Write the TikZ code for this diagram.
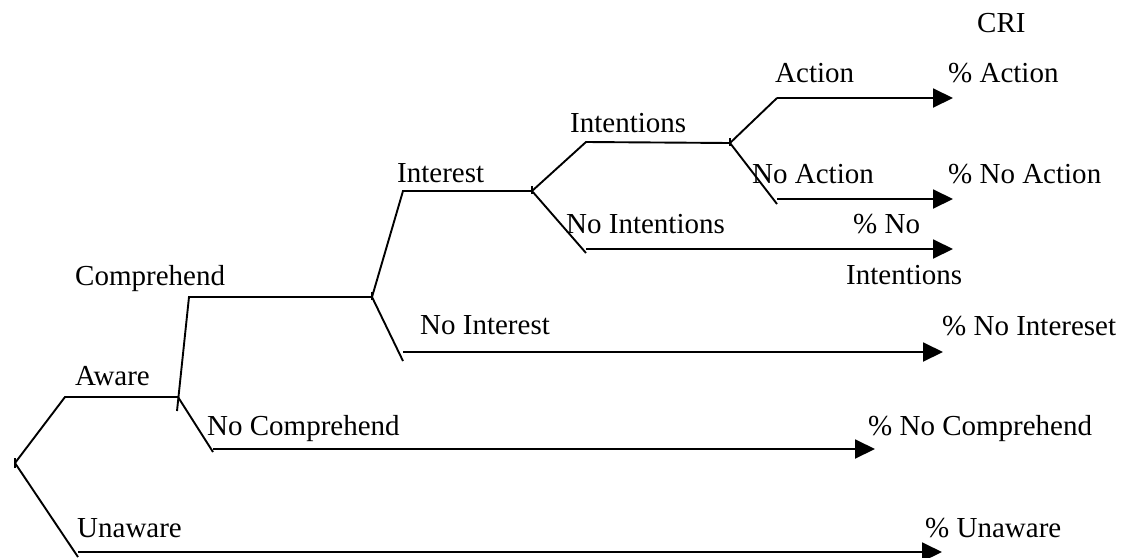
\documentclass[tikz,border=0pt]{standalone}
\usepackage{fontspec}
\setmainfont{Liberation Serif}
\usetikzlibrary{arrows.meta}
\begin{document}
\begin{tikzpicture}[x=1pt,y=-1pt,
  lbl/.style={anchor=base west,inner sep=0pt,font=\fontsize{29}{34}\selectfont},
  br/.style={line width=1.9pt},
  outarrow/.style={line width=1.9pt,-{Triangle[length=20pt,width=19pt]}},
  tick/.style={line width=1.5pt}]
\useasboundingbox (0,0) rectangle (1123,557);
% junction / corner coordinates
\coordinate (r) at (15,463);
\coordinate (aw1) at (65,397);
\coordinate (aw2) at (178,397);
\coordinate (awlow) at (177,411);
\coordinate (cm1) at (189,297);
\coordinate (cm2) at (372,297);
\coordinate (in1) at (403,191);
\coordinate (in2) at (532,191);
\coordinate (it1) at (586,142);
\coordinate (it2) at (730,143);
\coordinate (ac1) at (777,98);
\coordinate (ac2) at (953,98);
\coordinate (na0) at (777,204);
\coordinate (na1) at (777,199);
\coordinate (na2) at (953,199);
\coordinate (ni0) at (586,253);
\coordinate (ni1) at (586,249);
\coordinate (ni2) at (953,249);
\coordinate (nt0) at (403,361);
\coordinate (nt1) at (403,352);
\coordinate (nt2) at (943,352);
\coordinate (nc0) at (213,452);
\coordinate (nc1) at (213,449);
\coordinate (nc2) at (875,449);
\coordinate (un0) at (78,557);
\coordinate (un1) at (78,552);
\coordinate (un2) at (942,552);
% branches
\draw[br] (r) -- (aw1) -- (aw2);
\draw[br] (awlow) -- (cm1) -- (cm2);
\draw[br] (cm2) -- (in1) -- (in2);
\draw[br] (in2) -- (it1) -- (it2);
\draw[br] (it2) -- (ac1);
\draw[outarrow] (ac1) -- (ac2);
\draw[br] (it2) -- (na0);
\draw[outarrow] (na1) -- (na2);
\draw[br] (in2) -- (ni0);
\draw[outarrow] (ni1) -- (ni2);
\draw[br] (cm2) -- (nt0);
\draw[outarrow] (nt1) -- (nt2);
\draw[br] (aw2) -- (nc0);
\draw[outarrow] (nc1) -- (nc2);
\draw[br] (r) -- (un0);
\draw[outarrow] (un1) -- (un2);
% small ticks at junctions
\draw[tick] ([yshift=-5pt]r) -- ([yshift=5pt]r);
\draw[tick] ([yshift=-3pt]cm2) -- ([yshift=5pt]cm2);
\draw[tick] ([yshift=-3pt]in2) -- ([yshift=5pt]in2);
\draw[tick] ([yshift=-3pt]it2) -- ([yshift=5pt]it2);
% labels
\node[lbl] (cri) at (977,32) {CRI};
\node[lbl] (tAction) at (775,82) {Action};
\node[lbl] (pAction) at (948,82) {\% Action};
\node[lbl] (tIntentions) at (570,132) {Intentions};
\node[lbl] (tNoAction) at (752,183) {No Action};
\node[lbl] (pNoAction) at (948,183) {\% No Action};
\node[lbl] (tInterest) at (397,182) {Interest};
\node[lbl] (tNoIntentions) at (566,233) {No Intentions};
\node[lbl] (pNoInt1) at (853,233) {\% No};
\node[lbl] (pNoInt2) at (846,284) {Intentions};
\node[lbl] (tComprehend) at (75,285) {Comprehend};
\node[lbl] (tNoInterest) at (420,334) {No Interest};
\node[lbl] (pNoInterest) at (942,335) {\% No Intereset};
\node[lbl] (tAware) at (75,385) {Aware};
\node[lbl] (tNoComp) at (207,435) {No Comprehend};
\node[lbl] (pNoComp) at (868,435) {\% No Comprehend};
\node[lbl] (tUnaware) at (77,537) {Unaware};
\node[lbl] (pUnaware) at (925,537) {\% Unaware};
\end{tikzpicture}
\end{document}
